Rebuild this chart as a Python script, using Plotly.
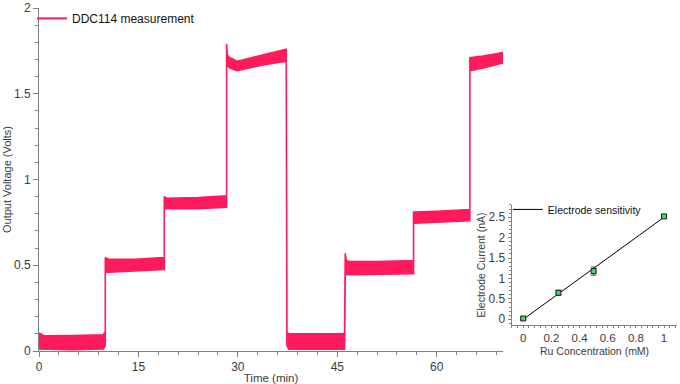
import plotly.graph_objects as go

# ---------------- main trace: band envelope per step segment ----------------
seg_t = [
    [0.0, 0.8, 5.0, 9.7, 10.0],
    [10.0, 10.2, 10.6, 14.5, 18.9],
    [18.9, 19.3, 24.0, 28.3],
    [28.3, 28.4, 28.8, 29.9, 31.0, 34.0, 37.3],
    [37.4, 37.7, 42.0, 46.1],
    [46.2, 46.35, 46.7, 51.0, 56.5],
    [56.5, 60.0, 65.0],
    [65.0, 67.0, 70.0],
]
seg_upper = [
    [0.105, 0.088, 0.090, 0.095, 0.115],
    [0.545, 0.540, 0.535, 0.535, 0.545],
    [0.900, 0.890, 0.895, 0.905],
    [1.790, 1.725, 1.710, 1.690, 1.700, 1.730, 1.760],
    [0.110, 0.100, 0.100, 0.102],
    [0.570, 0.530, 0.522, 0.522, 0.528],
    [0.810, 0.815, 0.825],
    [1.710, 1.720, 1.740],
]
seg_lower = [
    [0.012, 0.008, 0.008, 0.012, 0.030],
    [0.460, 0.460, 0.460, 0.465, 0.475],
    [0.830, 0.828, 0.830, 0.838],
    [1.700, 1.665, 1.650, 1.635, 1.645, 1.670, 1.690],
    [0.030, 0.010, 0.008, 0.010],
    [0.450, 0.446, 0.445, 0.445, 0.450],
    [0.745, 0.750, 0.760],
    [1.635, 1.650, 1.680],
]

# ---------------- inset: electrode sensitivity ----------------
conc = [0.0, 0.25, 0.5, 1.0]
current = [0.02, 0.65, 1.18, 2.52]
current_err = [0.03, 0.06, 0.10, 0.04]
fit_x = [0.0, 1.0]
fit_y = [0.0, 2.5]

x_ticks = [0, 15, 30, 45, 60]
y_ticks = [0, 0.5, 1, 1.5, 2]
ix_ticks = [0, 0.2, 0.4, 0.6, 0.8, 1]
iy_ticks = [0, 0.5, 1, 1.5, 2, 2.5]

PINK = "#ff1a5e"
AXC = "#808080"
TXT = "#3c3c3c"
FONT = "Liberation Sans, Arial, sans-serif"

# build closed outline: upper envelope forward, lower envelope backward
up_x, up_y, lo_x, lo_y = [], [], [], []
for t, u, l in zip(seg_t, seg_upper, seg_lower):
    up_x += t
    up_y += u
    lo_x += t
    lo_y += l
poly_x = up_x + lo_x[::-1] + [up_x[0]]
poly_y = up_y + lo_y[::-1] + [up_y[0]]

fig = go.Figure()
fig.add_trace(go.Scatter(
    x=poly_x, y=poly_y, mode="lines", fill="toself",
    fillcolor=PINK, line=dict(color=PINK, width=1.6),
    showlegend=False, hoverinfo="skip", xaxis="x", yaxis="y"))
fig.add_trace(go.Scatter(
    x=[None], y=[None], mode="lines", line=dict(color=PINK, width=2),
    name="DDC114 measurement", legend="legend", xaxis="x", yaxis="y"))

fig.add_trace(go.Scatter(
    x=fit_x, y=fit_y, mode="lines", line=dict(color="black", width=1),
    name="Electrode sensitivity", legend="legend2", xaxis="x2", yaxis="y2"))
fig.add_trace(go.Scatter(
    x=conc, y=current, mode="markers",
    error_y=dict(type="data", array=current_err, color="#555555",
                 thickness=1, width=3),
    marker=dict(symbol="square", size=5, color="#3ddc6a",
                line=dict(color="#1a1a1a", width=1)),
    showlegend=False, xaxis="x2", yaxis="y2"))

axis_common = dict(showline=True, linecolor=AXC, linewidth=1, ticks="outside",
                   tickcolor=AXC, showgrid=False, zeroline=False, automargin=False,
                   tickfont=dict(family=FONT, size=12, color=TXT))

fig.update_layout(
    width=680, height=384,
    margin=dict(l=39, r=3, t=8, b=33, autoexpand=False),
    paper_bgcolor="white", plot_bgcolor="white",
    font=dict(family=FONT, size=12, color=TXT),
    xaxis=dict(domain=[0, 0.7273], range=[0, 70], tickvals=x_ticks,
               ticklen=5, minor=dict(dtick=3, tick0=0, ticklen=3, ticks="outside", tickcolor=AXC),
               title=dict(text="Time (min)", standoff=0, font=dict(size=11.5, color=TXT)),
               anchor="y", **axis_common),
    yaxis=dict(domain=[0, 1], range=[0, 2], tickvals=y_ticks,
               ticklen=5, minor=dict(dtick=0.1, tick0=0, ticklen=3, ticks="outside", tickcolor=AXC),
               title=dict(text="Output Voltage (Volts)", standoff=0, font=dict(size=11, color=TXT)),
               anchor="x", **axis_common),
    xaxis2=dict(domain=[0.7409, 1.0], range=[-0.082, 1.092], tickvals=ix_ticks,
                ticklen=2, minor=dict(dtick=0.04, tick0=0, ticklen=2, ticks="outside", tickcolor=AXC),
                anchor="y2", **{**axis_common, "tickfont": dict(family=FONT, size=11.5, color=TXT)}),
    yaxis2=dict(domain=[0.0758, 0.4257], range=[-0.14, 2.8], tickvals=iy_ticks,
                ticklen=3, minor=dict(dtick=0.1, tick0=0, ticklen=2, ticks="outside", tickcolor=AXC),
                title=dict(text="Electrode Current (nA)", standoff=0, font=dict(size=10.5, color=TXT)),
                anchor="x2", **axis_common),
    legend=dict(x=-0.011, y=1.012, xanchor="left", yanchor="top",
                bgcolor="rgba(0,0,0,0)", font=dict(family=FONT, size=12, color="#111111")),
    legend2=dict(x=0.7348, y=0.455, xanchor="left", yanchor="top",
                 bgcolor="rgba(0,0,0,0)", font=dict(family=FONT, size=10.5, color="#111111")),
    annotations=[dict(text="Ru Concentration (mM)", xref="x2 domain", yref="paper",
                      x=0.5, y=0.024, xanchor="center", yanchor="top",
                      showarrow=False, font=dict(family=FONT, size=10.5, color=TXT))],
)

fig.write_html("out.html", config={"displayModeBar": False},
               post_script="document.body.style.margin='0';document.body.style.overflow='hidden';")
